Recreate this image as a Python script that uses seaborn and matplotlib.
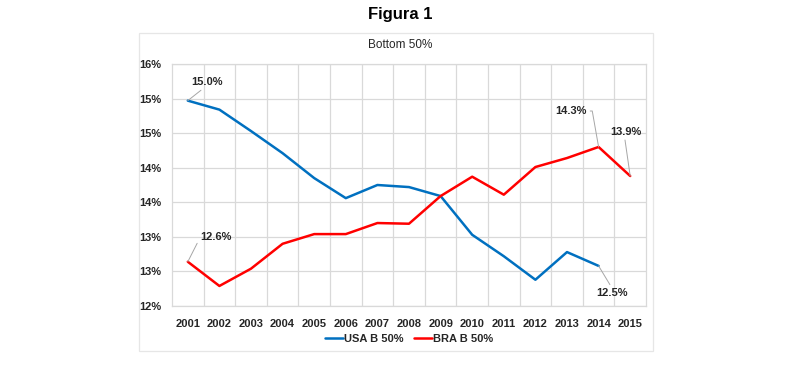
import matplotlib
matplotlib.use("Agg")
import matplotlib.pyplot as plt
import matplotlib.patches as mpatches
import pandas as pd
import seaborn as sns

# datos
years = list(range(2001, 2016))
usa_b50 = [14.97, 14.84, 14.53, 14.21, 13.85, 13.56, 13.75, 13.72, 13.59,
           13.03, 12.72, 12.38, 12.78, 12.58, None]
bra_b50 = [12.64, 12.29, 12.54, 12.90, 13.04, 13.04, 13.20, 13.19, 13.59,
           13.87, 13.61, 14.01, 14.14, 14.30, 13.88]
series_names = ["USA B 50%", "BRA B 50%"]
y_ticks = [12.0, 12.5, 13.0, 13.5, 14.0, 14.5, 15.0, 15.5]
y_tick_labels = ["12%", "13%", "13%", "14%", "14%", "15%", "15%", "16%"]

df = pd.DataFrame({
    "year": years * 2,
    "value": usa_b50 + bra_b50,
    "serie": [series_names[0]] * len(years) + [series_names[1]] * len(years),
}).dropna()

sns.set_style("white")
plt.rcParams["font.family"] = ["Liberation Sans", "DejaVu Sans"]

fig = plt.figure(figsize=(8, 3.65), dpi=100)
ax = fig.add_axes([0.215, 0.1616, 0.5925, 0.6631])

sns.lineplot(data=df, x="year", y="value", hue="serie", hue_order=series_names,
             palette=["#0070C0", "#FF0000"], linewidth=1.8, ax=ax, legend=True)

ax.set_xlim(2000.5, 2015.5)
ax.set_ylim(12.0, 15.5)
ax.set_xticks(years)
ax.set_xticklabels([str(y) for y in years], fontsize=8, fontweight="bold", color="#262626")
ax.set_yticks(y_ticks)
ax.set_yticklabels(y_tick_labels, fontsize=8, fontweight="bold", color="#262626")
ax.set_xticks([y + 0.5 for y in years[:-1]], minor=True)
ax.grid(axis="y", which="major", color="#d9d9d9", linewidth=0.9)
ax.grid(axis="x", which="minor", color="#d9d9d9", linewidth=0.9)
ax.tick_params(axis="both", which="both", length=0)
ax.tick_params(axis="x", pad=9)
ax.tick_params(axis="y", pad=8)
for s in ax.spines.values():
    s.set_color("#d9d9d9")
    s.set_linewidth(0.9)
ax.set_xlabel("")
ax.set_ylabel("")

# etiquetas de datos con líneas guía
lbl = dict(fontsize=8, fontweight="bold", color="#262626")


def guide(relpos, cs="arc3"):
    return dict(arrowstyle="-", color="#a6a6a6", lw=0.7, shrinkA=0, shrinkB=0,
                relpos=relpos, connectionstyle=cs)


ax.annotate("15.0%", xy=(2001, usa_b50[0]), xytext=(2001.1, 15.24), ha="left", va="center",
            arrowprops=guide((0.45, 0)), **lbl)
ax.annotate("12.6%", xy=(2001, bra_b50[0]), xytext=(2001.4, 13.0), ha="left", va="center",
            arrowprops=guide((0, 0.5)), **lbl)
ax.annotate("14.3%", xy=(2014, bra_b50[13]), xytext=(2013.63, 14.82), ha="right", va="center",
            arrowprops=guide((1, 0.5), "angle,angleA=0,angleB=100,rad=0"), **lbl)
ax.annotate("13.9%", xy=(2015, bra_b50[14]), xytext=(2014.87, 14.52), ha="center", va="center",
            arrowprops=guide((0.45, 0)), **lbl)
ax.annotate("12.5%", xy=(2014, usa_b50[13]), xytext=(2014.42, 12.19), ha="center", va="center",
            arrowprops=guide((0.5, 1)), **lbl)

leg = ax.legend(loc="center", bbox_to_anchor=(0.5, -0.137), ncol=2, frameon=False,
                fontsize=8, handlelength=1.6, handletextpad=0.1, columnspacing=1.0)
for t in leg.get_texts():
    t.set_fontweight("bold")
    t.set_color("#262626")

# marco del gráfico
fig.patches.append(mpatches.Rectangle((139 / 800, 1 - 351 / 365), 514 / 800, 318 / 365,
                                      transform=fig.transFigure, fill=False,
                                      edgecolor="#e6e6e6", linewidth=0.9))

fig.text(0.5, 1 - 45 / 365, "Bottom 50%", ha="center", va="center", fontsize=8.5, color="#262626")
fig.text(0.5, 1 - 14 / 365, "Figura 1", ha="center", va="center", fontsize=12,
         fontweight="bold", color="black")

fig.savefig("out.png", dpi=100, facecolor="white")
